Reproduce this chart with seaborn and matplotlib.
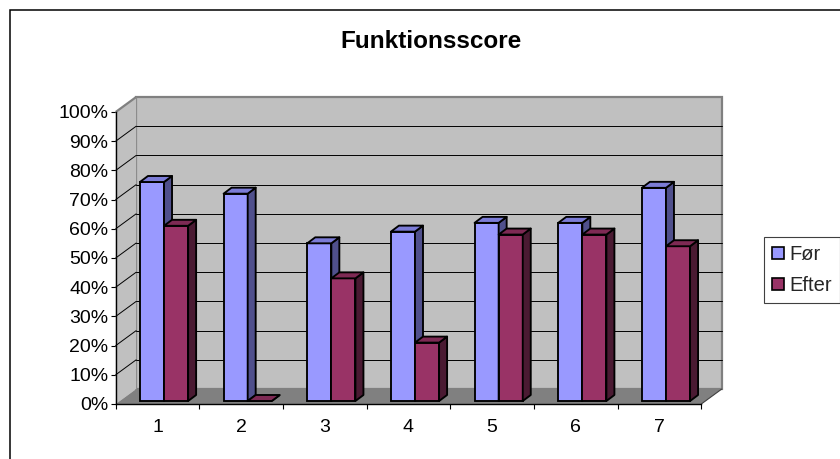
import numpy as np
import pandas as pd
import matplotlib
matplotlib.use("Agg")
import matplotlib.pyplot as plt
from matplotlib.patches import Polygon, Rectangle, Patch
from matplotlib.ticker import PercentFormatter, FixedLocator, NullFormatter
import seaborn as sns

# ---- data ----
categories = ["1", "2", "3", "4", "5", "6", "7"]
series_names = ["Før", "Efter"]
foer = [0.75, 0.71, 0.54, 0.58, 0.61, 0.61, 0.73]
efter = [0.60, 0.00, 0.42, 0.20, 0.57, 0.57, 0.53]
y_ticks = [i / 10 for i in range(11)]
title = "Funktionsscore"

front_colors = ["#9999FF", "#993366"]
top_colors = ["#7C7CD6", "#7E2A54"]
side_colors = ["#50508C", "#4A1A32"]
wall_color = "#C0C0C0"
floor_color = "#808080"

df = pd.DataFrame({
    "kategori": categories * 2,
    "serie": [series_names[0]] * len(categories) + [series_names[1]] * len(categories),
    "andel": foer + efter,
})

sns.set_theme(style="white")
plt.rcParams["font.family"] = ["Liberation Sans", "DejaVu Sans"]

W, H = 840, 459
fig = plt.figure(figsize=(W / 100, H / 100), dpi=100)

# front plane of the 3-D box, in pixels
x_left, x_right = 115.7, 701.3
y_zero, y_full = 404, 112
ax = fig.add_axes([x_left / W, (H - y_zero) / H,
                   (x_right - x_left) / W, (y_zero - y_full) / H])
ax.set_facecolor("none")

n = len(categories)
px_per_cat = (x_right - x_left) / n
px_per_unit = y_zero - y_full


def px(dx, dy):
    """pixel offset -> data offset"""
    return dx / px_per_cat, dy / px_per_unit


back_dx, back_dy = px(20.5, 15)      # depth of the whole box
plane_dx, plane_dy = px(6.5, 3)      # where the bars stand
bar_dx, bar_dy = px(8, 6)            # thickness of each bar

edge_lw = 1.35

sns.barplot(data=df, x="kategori", y="andel", hue="serie",
            palette=front_colors, saturation=1, width=0.576,
            edgecolor="black", linewidth=edge_lw, legend=False, ax=ax)

ax.set_xlim(-0.5, n - 0.5)
ax.set_ylim(0, 1)

x0b, x1b = -0.5, n - 0.5

# back wall
ax.add_patch(Rectangle((x0b + back_dx, back_dy), n, 1, facecolor=wall_color,
                       edgecolor=floor_color, linewidth=1.6, zorder=0.5,
                       clip_on=False))
# side wall
ax.add_patch(Polygon([(x0b, 0), (x0b, 1), (x0b + back_dx, 1 + back_dy),
                      (x0b + back_dx, back_dy)], closed=True,
                     facecolor=wall_color, edgecolor="none", zorder=0.6,
                     clip_on=False))
ax.plot([x0b, x0b + back_dx], [1, 1 + back_dy], color=floor_color, lw=1.6,
        zorder=0.7, clip_on=False, solid_capstyle="butt")

# gridlines on back and side wall
for v in y_ticks[1:-1]:
    ax.plot([x0b + back_dx, x1b + back_dx], [v + back_dy, v + back_dy],
            color="black", lw=0.7, zorder=1, clip_on=False)
    ax.plot([x0b, x0b + back_dx], [v, v + back_dy],
            color="black", lw=0.7, zorder=1, clip_on=False)

# floor
ax.add_patch(Polygon([(x0b, 0), (x1b, 0), (x1b + back_dx, back_dy),
                      (x0b + back_dx, back_dy)], closed=True,
                     facecolor=floor_color, edgecolor="none", zorder=1.5,
                     clip_on=False))
ax.plot([x1b, x1b + back_dx], [0, back_dy], color="#404040", lw=0.8,
        zorder=1.6, clip_on=False)

# bars: shift the front faces back to the bar plane, add top and side faces
for h, cont in enumerate(ax.containers):
    for p in cont.patches:
        bx0 = p.get_x() + plane_dx
        bw = p.get_width()
        bh = p.get_height()
        p.set_x(bx0)
        p.set_y(plane_dy)
        p.set_zorder(5 + h)
        p.set_clip_on(False)
        bx1 = bx0 + bw
        y0 = plane_dy
        y1 = plane_dy + bh
        top = Polygon([(bx0, y1), (bx1, y1), (bx1 + bar_dx, y1 + bar_dy),
                       (bx0 + bar_dx, y1 + bar_dy)], closed=True,
                      facecolor=top_colors[h], edgecolor="black",
                      linewidth=edge_lw, joinstyle="round", zorder=5 + h,
                      clip_on=False)
        side = Polygon([(bx1, y0), (bx1, y1), (bx1 + bar_dx, y1 + bar_dy),
                        (bx1 + bar_dx, y0 + bar_dy)], closed=True,
                       facecolor=side_colors[h], edgecolor="black",
                       linewidth=edge_lw, joinstyle="round", zorder=5 + h,
                       clip_on=False)
        ax.add_patch(side)
        ax.add_patch(top)

# axes: front plane
for s in ["top", "right"]:
    ax.spines[s].set_visible(False)
for s in ["left", "bottom"]:
    ax.spines[s].set_color("black")
    ax.spines[s].set_linewidth(1.0)
    ax.spines[s].set_zorder(3)

ax.yaxis.set_major_locator(FixedLocator(y_ticks))
ax.yaxis.set_major_formatter(PercentFormatter(xmax=1, decimals=0))
ax.tick_params(axis="y", which="major", direction="out", length=3.6,
               width=0.8, color="black", labelsize=14, pad=1.5,
               left=True, labelcolor="black")

ax.xaxis.set_major_locator(FixedLocator(np.arange(n + 1) - 0.5))
ax.xaxis.set_major_formatter(NullFormatter())
ax.xaxis.set_minor_locator(FixedLocator(np.arange(n)))
ax.set_xticks(np.arange(n), categories, minor=True)
ax.tick_params(axis="x", which="major", direction="out", length=3.6,
               width=0.8, color="black", bottom=True)
ax.tick_params(axis="x", which="minor", length=0, labelsize=14, pad=11,
               labelcolor="black", bottom=True)
ax.set_xlabel("")
ax.set_ylabel("")

# title
fig.text(431 / W, 1 - 48 / H, title, ha="center", va="baseline",
         fontsize=17.5, fontweight="bold", color="black")

# legend
handles = [Patch(facecolor=c, edgecolor="black", linewidth=1.2)
           for c in front_colors]
leg = fig.legend(handles, series_names, loc="upper left",
                 bbox_to_anchor=(764 / W, 1 - 237 / H), frameon=True,
                 fancybox=False, edgecolor="#404040", framealpha=1,
                 fontsize=14.5, handlelength=0.6, handleheight=0.6,
                 handletextpad=0.25, labelspacing=0.6, borderpad=0.4,
                 borderaxespad=0)
leg.get_frame().set_linewidth(0.8)

# chart area border
fig.add_artist(Rectangle((10 / W, -0.2), 1.2, 1.2 - 10 / H, transform=fig.transFigure,
                         fill=False, edgecolor="black", linewidth=1.1))

fig.savefig("out.png", dpi=100, facecolor="white")
